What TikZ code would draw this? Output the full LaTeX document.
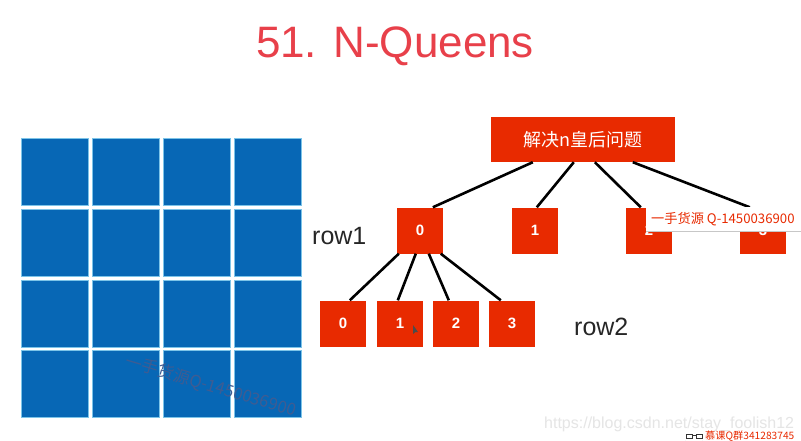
\documentclass[tikz,border=0pt]{standalone}
\usepackage{fontspec}
\setmainfont{Liberation Sans}
\newfontfamily\cjk{Noto Sans CJK SC}
\usetikzlibrary{calc}
\definecolor{qred}{HTML}{E82A00}
\definecolor{qblue}{HTML}{0767B5}
\definecolor{qedge}{HTML}{7CC4E8}
\definecolor{qtitle}{HTML}{E8404A}
\definecolor{qmark}{HTML}{3F5C92}
\tikzset{
 x=1pt,y=-1pt,
 cell/.style={draw=qedge,line width=0.6pt,fill=qblue,minimum size=66.6pt,inner sep=0pt,anchor=north west},
 rbox/.style={fill=qred,minimum size=46pt,inner sep=0pt,text=white,font=\bfseries\fontsize{15}{15}\selectfont},
 link/.style={draw=black,line width=2.6pt},
 rowlabel/.style={font=\fontsize{25}{25}\selectfont,text=black!85,inner sep=0pt},
}
\begin{document}
\begin{tikzpicture}
\useasboundingbox (0,0) rectangle (801,441);
\fill[white] (0,0) rectangle (801,441);
\node[text=qtitle,font=\fontsize{44}{44}\selectfont,inner sep=0pt] (title) at (395,46) {51. N-Queens};
% board
\foreach \c/\x in {1/21.3,2/92.3,3/163.3,4/234.3}{
  \foreach \r/\y in {1/138.3,2/209.3,3/280.3,4/350.3}{
    \node[cell] (c\r\c) at (\x,\y) {};
  }
}
% tree nodes
\node[fill=qred,minimum width=184pt,minimum height=45pt,inner sep=0pt,text=white,font=\cjk\fontsize{18}{18}\selectfont] (root) at (583,139.5) {解决n皇后问题};
\node[rbox] (a0) at (420,230.5) {0};
\node[rbox] (a1) at (535,230.5) {1};
\node[rbox] (a2) at (649,230.5) {2};
\node[rbox] (a3) at (763,230.5) {3};
\node[rbox] (b0) at (343,323.5) {0};
\node[rbox] (b1) at (400,323.5) {1};
\node[rbox] (b2) at (456,323.5) {2};
\node[rbox] (b3) at (512,323.5) {3};
% links
\draw[link] ($(root.south west)+(42,0)$) -- ($(a0.north west)+(36,0)$);
\draw[link] ($(root.south west)+(83,0)$) -- ($(a1.north west)+(25,0)$);
\draw[link] ($(root.south west)+(104,0)$) -- ($(a2.north west)+(15,0)$);
\draw[link] ($(root.south west)+(142,0)$) -- ($(a3.north west)+(10,0)$);
\draw[link] ($(a0.south west)+(2,0)$) -- ($(b0.north west)+(30,0)$);
\draw[link] ($(a0.south west)+(19,0)$) -- ($(b1.north west)+(21,0)$);
\draw[link] ($(a0.south west)+(32,0)$) -- ($(b2.north west)+(16,0)$);
\draw[link] ($(a0.south west)+(44,0)$) -- ($(b3.north west)+(12,0)$);
% labels
\node[rowlabel,anchor=base west] (row1) at (312,244) {row1};
\node[rowlabel,anchor=base west] (row2) at (574,335) {row2};
% cursor
\fill[black!70] (413,325) -- (413,334) -- (415.5,332) -- (418,332) -- cycle;
% popup
\fill[white] (646,207) rectangle (801,231);
\draw[black!22,line width=0.6pt] (646,231) -- (801,231);
\node[text=qred,font=\cjk\fontsize{13.2}{13.2}\selectfont,inner sep=0pt,anchor=west] (pop) at (651,219) {一手货源 Q-1450036900};
% watermarks
\node[text=qmark,font=\cjk\fontsize{16.6}{16.6}\selectfont,rotate=-16.6,inner sep=0pt] (wm) at (211,386) {一手货源Q-1450036900};
\node[text=black!10,font=\fontsize{16}{16}\selectfont,inner sep=0pt,anchor=base west] (url) at (544,428) {https://blog.csdn.net/stay\_foolish12};
\draw[black!75,line width=0.8pt] (685,441) arc[start angle=180,end angle=0,radius=9];
\fill[white] (686,432.5) rectangle (702,441);
\draw[black!80,line width=0.9pt] (686,434) rectangle (692,438) (696,434) rectangle (702,438) (692,435) -- (696,435);
\node[text=qred,font=\cjk\fontsize{10.2}{10.2}\selectfont,inner sep=0pt,anchor=west] (qq) at (705,436) {慕课Q群341283745};
\end{tikzpicture}
\end{document}
